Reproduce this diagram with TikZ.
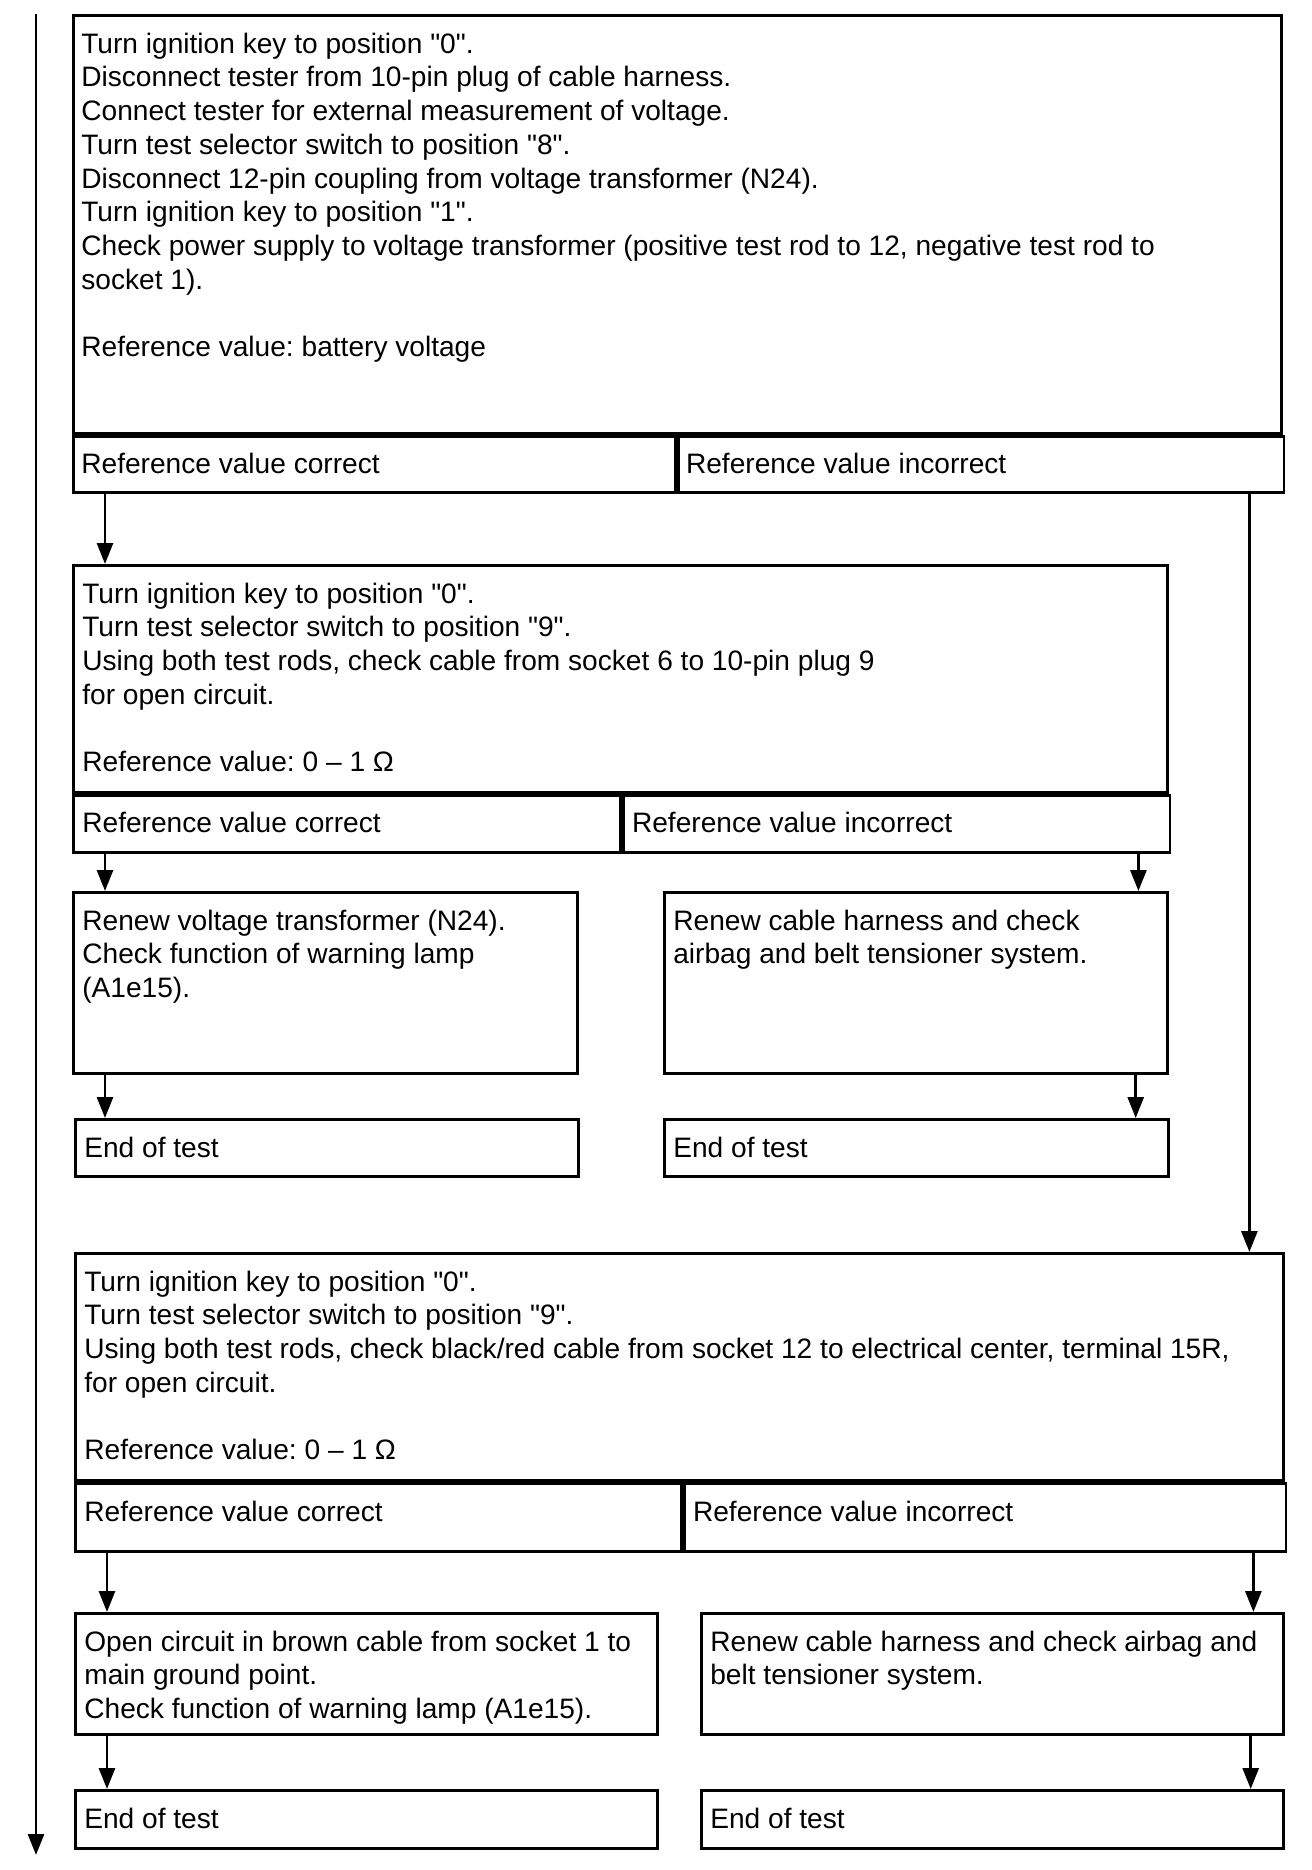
\documentclass[tikz,border=0pt]{standalone}
\usepackage{fontspec}
\setmainfont{Liberation Sans}[Ligatures=TeXOff]
\usetikzlibrary{arrows.meta,positioning}
\frenchspacing

\begin{document}
\begin{tikzpicture}[x=0.02cm, y=-0.02cm,
    stepbox/.style={draw, line width=1.6pt, inner sep=0pt, anchor=north west},
    steptext/.style={anchor=north west, inner sep=0pt, align=left,
      font=\fontsize{16pt}{19.2pt}\selectfont},
    flow/.style={line width=1.6pt, -{Triangle[length=0.42cm,width=0.32cm]}}]

\useasboundingbox (0,0) rectangle (1312,1870);

% first check
\node[stepbox, minimum width=24.16cm, minimum height=8.36cm] (b1) at (72,14) {};
\node[stepbox, minimum width=12.04cm, minimum height=1.12cm] (c1l) at (b1.south west) {};
\node[stepbox, minimum width=12.12cm, minimum height=1.12cm] (c1r) at (c1l.north east) {};

% second check
\node[stepbox, minimum width=21.88cm, minimum height=4.54cm] (b2) at (72,564) {};
\node[stepbox, minimum width=10.94cm, minimum height=1.14cm] (c2l) at (b2.south west) {};
\node[stepbox, minimum width=10.94cm, minimum height=1.14cm] (c2r) at (c2l.north east) {};

\node[stepbox, minimum width=10.08cm, minimum height=3.62cm] (b3) at (72,891) {};
\node[stepbox, minimum width=10.06cm, minimum height=3.62cm] (b4) at (663,891) {};
\node[stepbox, minimum width=10.06cm, minimum height=1.14cm] (e3) at (74,1118) {};
\node[stepbox, minimum width=10.08cm, minimum height=1.14cm] (e4) at (663,1118) {};

% third check
\node[stepbox, minimum width=24.16cm, minimum height=4.54cm] (b5) at (74,1252) {};
\node[stepbox, minimum width=12.12cm, minimum height=1.36cm] (c5l) at (b5.south west) {};
\node[stepbox, minimum width=12.04cm, minimum height=1.36cm] (c5r) at (c5l.north east) {};

\node[stepbox, minimum width=11.64cm, minimum height=2.42cm] (b6) at (74,1612) {};
\node[stepbox, minimum width=11.64cm, minimum height=2.42cm] (b7) at (700,1612) {};
\node[stepbox, minimum width=11.64cm, minimum height=1.16cm] (e6) at (74,1789) {};
\node[stepbox, minimum width=11.64cm, minimum height=1.16cm] (e7) at (700,1789) {};

% texts
\node[steptext] (t1) at ([xshift=0.18cm,yshift=-0.37cm]b1.north west)
  {Turn ignition key to position "0".\\
   Disconnect tester from 10-pin plug of cable harness.\\
   Connect tester for external measurement of voltage.\\
   Turn test selector switch to position "8".\\
   Disconnect 12-pin coupling from voltage transformer (N24).\\
   Turn ignition key to position "1".\\
   Check power supply to voltage transformer (positive test rod to 12, negative test rod to\\
   socket 1).\\[19.2pt]
   Reference value: battery voltage};
\node[steptext] (t1l) at ([xshift=0.18cm,yshift=-0.37cm]c1l.north west) {Reference value correct};
\node[steptext] (t1r) at ([xshift=0.18cm,yshift=-0.37cm]c1r.north west) {Reference value incorrect};

\node[steptext] (t2) at ([xshift=0.2cm,yshift=-0.37cm]b2.north west)
  {Turn ignition key to position "0".\\
   Turn test selector switch to position "9".\\
   Using both test rods, check cable from socket 6 to 10-pin plug 9\\
   for open circuit.\\[19.2pt]
   Reference value: 0 – 1 Ω};
\node[steptext] (t2l) at ([xshift=0.2cm,yshift=-0.37cm]c2l.north west) {Reference value correct};
\node[steptext] (t2r) at ([xshift=0.2cm,yshift=-0.37cm]c2r.north west) {Reference value incorrect};

\node[steptext] (t3) at ([xshift=0.2cm,yshift=-0.37cm]b3.north west)
  {Renew voltage transformer (N24).\\
   Check function of warning lamp\\
   (A1e15).};
\node[steptext] (t4) at ([xshift=0.2cm,yshift=-0.37cm]b4.north west)
  {Renew cable harness and check\\
   airbag and belt tensioner system.};
\node[steptext] (te3) at ([xshift=0.2cm,yshift=-0.37cm]e3.north west) {End of test};
\node[steptext] (te4) at ([xshift=0.2cm,yshift=-0.37cm]e4.north west) {End of test};

\node[steptext] (t5) at ([xshift=0.2cm,yshift=-0.37cm]b5.north west)
  {Turn ignition key to position "0".\\
   Turn test selector switch to position "9".\\
   Using both test rods, check black/red cable from socket 12 to electrical center, terminal 15R,\\
   for open circuit.\\[19.2pt]
   Reference value: 0 – 1 Ω};
\node[steptext] (t5l) at ([xshift=0.2cm,yshift=-0.37cm]c5l.north west) {Reference value correct};
\node[steptext] (t5r) at ([xshift=0.2cm,yshift=-0.37cm]c5r.north west) {Reference value incorrect};

\node[steptext] (t6) at ([xshift=0.2cm,yshift=-0.37cm]b6.north west)
  {Open circuit in brown cable from socket 1 to\\
   main ground point.\\
   Check function of warning lamp (A1e15).};
\node[steptext] (t7) at ([xshift=0.2cm,yshift=-0.37cm]b7.north west)
  {Renew cable harness and check airbag and\\
   belt tensioner system.};
\node[steptext] (te6) at ([xshift=0.2cm,yshift=-0.37cm]e6.north west) {End of test};
\node[steptext] (te7) at ([xshift=0.2cm,yshift=-0.37cm]e7.north west) {End of test};

% connectors
\coordinate (start) at (36,14);
\coordinate (finish) at (36,1855);
\begin{scope}[flow]
\draw (start) -- (finish);
\draw ([xshift=0.66cm]c1l.south west) -- ([xshift=0.66cm]c1l.south west |- b2.north);
\draw ([xshift=-0.72cm]c1r.south east) -- ([xshift=-0.72cm]c1r.south east |- b5.north);
\draw ([xshift=0.66cm]c2l.south west) -- ([xshift=0.66cm]c2l.south west |- b3.north);
\draw ([xshift=-0.66cm]c2r.south east) -- ([xshift=-0.66cm]c2r.south east |- b4.north);
\draw ([xshift=0.66cm]b3.south west) -- ([xshift=0.66cm]b3.south west |- e3.north);
\draw ([xshift=-0.66cm]b4.south east) -- ([xshift=-0.66cm]b4.south east |- e4.north);
\draw ([xshift=0.66cm]c5l.south west) -- ([xshift=0.66cm]c5l.south west |- b6.north);
\draw ([xshift=-0.68cm]c5r.south east) -- ([xshift=-0.68cm]c5r.south east |- b7.north);
\draw ([xshift=0.66cm]b6.south west) -- ([xshift=0.66cm]b6.south west |- e6.north);
\draw ([xshift=-0.68cm]b7.south east) -- ([xshift=-0.68cm]b7.south east |- e7.north);
\end{scope}

\end{tikzpicture}
\end{document}
